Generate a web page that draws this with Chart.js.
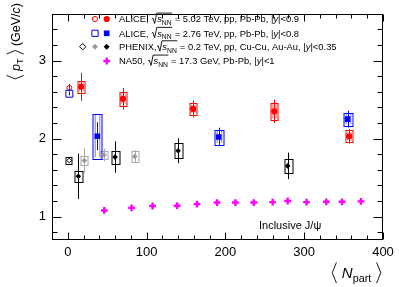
<!DOCTYPE html>
<html><head><meta charset="utf-8">
<script src="https://cdn.jsdelivr.net/npm/chart.js@4.4.1/dist/chart.umd.min.js"></script>
<style>html,body{margin:0;padding:0;background:#fff}canvas{display:block}</style>
</head><body>
<canvas id="c" width="399" height="287"></canvas>
<script>
// ---- data ----
const xTickValues = [0, 100, 200, 300, 400];
const yTickValues = [1, 2, 3];

const npartAlice502 = [16.8, 70, 159, 262, 357];
const ptAlice502 = [2.665, 2.51, 2.38, 2.35, 2.03];
const statAlice502 = [0.18, 0.14, 0.11, 0.15, 0.095];
const sysAlice502 = [0.075, 0.09, 0.074, 0.11, 0.078];

const npartAlice502pp = [2];
const ptAlice502pp = [2.65];
const statAlice502pp = [0.05];
const sysAlice502pp = [0];

const npartAlice276 = [37.5, 191.5, 355];
const ptAlice276 = [2.03, 2.02, 2.25];
const statAlice276 = [0.18, 0.12, 0.11];
const sysAlice276 = [0.29, 0.096, 0.082];

const npartAlice276pp = [2];
const ptAlice276pp = [2.575];
const statAlice276pp = [0.02];
const sysAlice276pp = [0];

const npartPhenixAuAu = [13.4, 60, 140, 279];
const ptPhenixAuAu = [1.517, 1.763, 1.845, 1.65];
const statPhenixAuAu = [0.29, 0.2, 0.16, 0.17];
const sysPhenixAuAu = [0.07, 0.082, 0.096, 0.092];

const npartPhenixCuCu = [21, 46, 85];
const ptPhenixCuCu = [1.72, 1.79, 1.77];
const statPhenixCuCu = [0.16, 0.08, 0.08];
const sysPhenixCuCu = [0.06, 0.053, 0.07];

const npartPhenixpp = [2];
const ptPhenixpp = [1.72];
const statPhenixpp = [0];
const sysPhenixpp = [0.045];

const npartNA50 = [46.3, 81, 107.6, 138.7, 164, 189.4, 212.7, 236, 260, 279, 303, 328, 348, 372];
const ptNA50 = [1.079, 1.112, 1.136, 1.14, 1.16, 1.18, 1.18, 1.18, 1.185, 1.20, 1.185, 1.19, 1.19, 1.195];

// ---- styling ----
const FONT = '"Liberation Sans", Arial, Helvetica, sans-serif';
const RED = '#ff0000', BLUE = '#0000ff', BLACK = '#000000', GRAY = '#9a9a9a', MAG = '#ff00ff';

function pts(xs, ys) { return xs.map((x, i) => ({ x: x, y: ys[i] })); }

const datasets = [
  { data: pts(npartPhenixpp, ptPhenixpp), stat: statPhenixpp, sys: sysPhenixpp, errColor: BLACK, boxHW: 3.2,
    pointStyle: 'rectRot', radius: 2.4, borderWidth: 1, borderColor: BLACK, backgroundColor: 'rgba(0,0,0,0)' },
  { data: pts(npartPhenixCuCu, ptPhenixCuCu), stat: statPhenixCuCu, sys: sysPhenixCuCu, errColor: '#a8a8a8', boxHW: 3.7,
    pointStyle: 'rectRot', radius: 2.8, borderWidth: 0, borderColor: GRAY, backgroundColor: GRAY },
  { data: pts(npartPhenixAuAu, ptPhenixAuAu), stat: statPhenixAuAu, sys: sysPhenixAuAu, errColor: BLACK, boxHW: 4,
    pointStyle: 'rectRot', radius: 2.8, borderWidth: 0, borderColor: BLACK, backgroundColor: BLACK },
  { data: pts(npartAlice276pp, ptAlice276pp), stat: statAlice276pp, sys: sysAlice276pp, errColor: BLUE, boxHW: 3,
    pointStyle: 'rect', radius: 4.9, borderWidth: 1, borderColor: BLUE, backgroundColor: 'rgba(0,0,0,0)' },
  { data: pts(npartAlice276, ptAlice276), stat: statAlice276, sys: sysAlice276, errColor: BLUE, boxHW: 4.3, dbl: true,
    pointStyle: 'rect', radius: 4.0, borderWidth: 0, borderColor: BLUE, backgroundColor: BLUE },
  { data: pts(npartAlice502pp, ptAlice502pp), stat: statAlice502pp, sys: sysAlice502pp, errColor: RED, boxHW: 3,
    pointStyle: 'circle', radius: 2.5, borderWidth: 1, borderColor: RED, backgroundColor: 'rgba(0,0,0,0)' },
  { data: pts(npartAlice502, ptAlice502), stat: statAlice502, sys: sysAlice502, errColor: RED, boxHW: 3.7, dbl: true,
    pointStyle: 'circle', radius: 3.1, borderWidth: 0, borderColor: RED, backgroundColor: RED },
  { data: pts(npartNA50, ptNA50), errColor: MAG,
    pointStyle: 'cross', radius: 3.4, borderWidth: 2.4, borderColor: MAG, backgroundColor: MAG }
];

// ---- rich text helper ----
function rich(ctx, x, y, segs, f, dry) {
  let cx = x;
  for (const s of segs) {
    if (s.sqrt) {
      const innerW = rich(ctx, 0, 0, s.sqrt, f, true);
      const top = y - 0.98 * f;
      if (!dry) {
        ctx.save();
        ctx.lineWidth = 0.9; ctx.strokeStyle = '#000';
        ctx.beginPath();
        ctx.moveTo(cx + 0.05 * f, y - 0.38 * f);
        ctx.lineTo(cx + 0.17 * f, y - 0.45 * f);
        ctx.lineTo(cx + 0.36 * f, y + 0.12 * f);
        ctx.lineTo(cx + 0.58 * f, top);
        ctx.lineTo(cx + 0.62 * f + innerW + 0.05 * f, top);
        ctx.stroke();
        ctx.restore();
      }
      cx += 0.62 * f;
      rich(ctx, cx, y, s.sqrt, f, dry);
      cx += innerW + 0.05 * f;
    } else if (s.br) {
      const h = s.h || 1.0, w = 0.28 * f;
      if (!dry) {
        ctx.save();
        ctx.lineWidth = 0.9; ctx.strokeStyle = '#000';
        ctx.beginPath();
        const mid = y - 0.35 * f, hh = h * f * 0.55;
        const pad = 0.08 * f;
        if (s.br === '<') {
          ctx.moveTo(cx + pad + w, mid - hh); ctx.lineTo(cx + pad, mid); ctx.lineTo(cx + pad + w, mid + hh);
        } else {
          ctx.moveTo(cx + pad, mid - hh); ctx.lineTo(cx + pad + w, mid); ctx.lineTo(cx + pad, mid + hh);
        }
        ctx.stroke();
        ctx.restore();
      }
      cx += w + 0.16 * f;
    } else {
      const size = s.sub ? f * 0.72 : f;
      ctx.font = (s.it ? 'italic ' : '') + size.toFixed(2) + 'px ' + FONT;
      if (!dry) {
        ctx.fillStyle = '#000';
        ctx.textBaseline = 'alphabetic';
        ctx.textAlign = 'left';
        ctx.fillText(s.t, cx, y + (s.sub ? f * 0.28 : 0));
      }
      cx += ctx.measureText(s.t).width;
    }
  }
  return cx - x;
}
const sNN = [{ t: 's', it: true }, { t: 'NN', sub: true }];

// ---- plugins ----
const errPlugin = {
  id: 'err',
  beforeDatasetsDraw(chart) {
    const ctx = chart.ctx, ys = chart.scales.y;
    chart.data.datasets.forEach((ds, i) => {
      const meta = chart.getDatasetMeta(i);
      meta.data.forEach((p, j) => {
        const x = Math.round(p.x) + 0.5, yv = ds.data[j].y;
        const st = ds.stat ? ds.stat[j] : 0, sy = ds.sys ? ds.sys[j] : 0;
        ctx.save();
        ctx.strokeStyle = ds.errColor; ctx.lineWidth = 1;
        if (st > 0) {
          ctx.beginPath();
          ctx.moveTo(x, ys.getPixelForValue(yv + st));
          ctx.lineTo(x, ys.getPixelForValue(yv - st));
          ctx.stroke();
        }
        if (sy > 0) {
          const t = ys.getPixelForValue(yv + sy), b = ys.getPixelForValue(yv - sy);
          const hw = ds.boxHW;
          ctx.strokeRect(Math.round(x - hw), Math.round(t) + 0.5, Math.round(2 * hw), Math.round(b - t));
          if (ds.dbl) {
            ctx.globalAlpha = 0.55;
            ctx.beginPath();
            ctx.moveTo(x - hw + 2, t + 1.5); ctx.lineTo(x - hw + 2, b - 1.5);
            ctx.moveTo(x + hw - 2, t + 1.5); ctx.lineTo(x + hw - 2, b - 1.5);
            ctx.stroke();
          }
        }
        ctx.restore();
      });
    });
  }
};

const framePlugin = {
  id: 'frame',
  afterDraw(chart) {
    const ctx = chart.ctx, a = chart.chartArea, xs = chart.scales.x, ys = chart.scales.y;
    ctx.save();
    ctx.strokeStyle = '#000'; ctx.lineWidth = 1;
    const L = Math.round(a.left) + 0.5, R = Math.round(a.right) - 0.5, T = Math.round(a.top) + 0.5, B = Math.round(a.bottom) - 0.5;
    ctx.strokeRect(L, T, R - L, B - T);
    ctx.beginPath();
    for (let k = 4; k <= 18; k++) {
      const v = k * 0.2;
      if (v > ys.max + 1e-9) break;
      const major = Math.abs(v - Math.round(v)) < 1e-6;
      const len = major ? 9 : 5;
      const py = Math.round(ys.getPixelForValue(v)) + 0.5;
      ctx.moveTo(L, py); ctx.lineTo(L + len, py);
      ctx.moveTo(R, py); ctx.lineTo(R - len, py);
    }
    for (let v = 0; v <= 400; v += 20) {
      const major = v % 100 === 0;
      const len = major ? 7 : 4;
      const px = Math.round(xs.getPixelForValue(v)) + 0.5;
      ctx.moveTo(px, B); ctx.lineTo(px, B - len);
      ctx.moveTo(px, T); ctx.lineTo(px, T + len);
    }
    ctx.stroke();
    ctx.restore();

    // legend
    const f = 9.4;
    const mx1 = 95, mx2 = 106.7, mx0 = 82.7, tx = 119;
    const rows = [19, 33.3, 46.7, 61];
    const dp = Chart.helpers.drawPoint;
    function mk(style, r, x, y, fill, stroke, bw) {
      ctx.save();
      ctx.fillStyle = fill; ctx.strokeStyle = stroke; ctx.lineWidth = bw;
      dp(ctx, { pointStyle: style, radius: r, borderWidth: bw, rotation: 0 }, x, y);
      ctx.restore();
    }
    const clear = 'rgba(0,0,0,0)';
    mk('circle', 2.6, mx1, rows[0], clear, RED, 1);
    mk('circle', 3.1, mx2, rows[0], RED, RED, 0);
    mk('rect', 4.4, mx1, rows[1], clear, BLUE, 1);
    mk('rect', 4.0, mx2, rows[1], BLUE, BLUE, 0);
    mk('rectRot', 3.2, mx0, rows[2], clear, BLACK, 1);
    mk('rectRot', 3.0, mx1, rows[2], GRAY, GRAY, 0);
    mk('rectRot', 3.0, mx2, rows[2], BLACK, BLACK, 0);
    mk('cross', 3.4, mx2, rows[3], MAG, MAG, 2.4);

    const bl = 3.3;
    rich(ctx, tx, rows[0] + bl, [{ t: 'ALICE, ' }, { sqrt: sNN }, { t: ' = 5.02 TeV, pp, Pb-Pb, |' }, { t: 'y', it: true }, { t: '|<0.9' }], f);
    rich(ctx, tx, rows[1] + bl, [{ t: 'ALICE, ' }, { sqrt: sNN }, { t: ' = 2.76 TeV, pp, Pb-Pb, |' }, { t: 'y', it: true }, { t: '|<0.8' }], f);
    rich(ctx, tx, rows[2] + bl, [{ t: 'PHENIX,' }, { sqrt: sNN }, { t: ' = 0.2 TeV, pp, Cu-Cu, Au-Au, |' }, { t: 'y', it: true }, { t: '|<0.35' }], f);
    rich(ctx, tx, rows[3] + bl, [{ t: 'NA50, ' }, { sqrt: sNN }, { t: ' = 17.3 GeV, Pb-Pb, |' }, { t: 'y', it: true }, { t: '|<1' }], f);

    ctx.save();
    ctx.font = '11px ' + FONT; ctx.fillStyle = '#000'; ctx.textBaseline = 'alphabetic'; ctx.textAlign = 'left';
    ctx.fillText('Inclusive J/\u03C8', 259, 229);
    ctx.restore();

    const fx = 15;
    const xsegs = [{ br: '<', h: 1.25 }, { t: ' ' }, { t: 'N', it: true }, { t: 'part', sub: true }, { t: ' ' }, { br: '>', h: 1.25 }];
    const wx = rich(ctx, 0, 0, xsegs, fx, true);
    rich(ctx, 382 - wx, 278, xsegs, fx);

    const fy = 12.5;
    const ysegs = [{ br: '<', h: 1.25 }, { t: ' ' }, { t: 'p', it: true }, { t: 'T', sub: true }, { t: ' ' }, { br: '>', h: 1.25 }, { t: ' (GeV/' }, { t: 'c', it: true }, { t: ')' }];
    const wy = rich(ctx, 0, 0, ysegs, fy, true);
    ctx.save();
    ctx.translate(19.5, 3);
    ctx.rotate(-Math.PI / 2);
    rich(ctx, -wy, 0, ysegs, fy);
    ctx.restore();
  }
};

new Chart(document.getElementById('c'), {
  type: 'scatter',
  data: { datasets: datasets },
  options: {
    responsive: false,
    animation: false,
    events: [],
    layout: { padding: { left: 0, right: 16, top: 5, bottom: 0 } },
    plugins: { legend: { display: false }, tooltip: { enabled: false }, title: { display: false } },
    scales: {
      x: {
        type: 'linear', min: -20, max: 400,
        grid: { display: false, drawTicks: false }, border: { display: false },
        afterBuildTicks: s => { s.ticks = xTickValues.map(v => ({ value: v })); },
        afterFit: s => { s.height = 47; },
        ticks: { padding: 5, autoSkip: false, maxRotation: 0, color: '#000', font: { family: FONT, size: 13 } }
      },
      y: {
        type: 'linear', min: 0.7, max: 3.6,
        grid: { display: false, drawTicks: false }, border: { display: false },
        afterBuildTicks: s => { s.ticks = yTickValues.map(v => ({ value: v })); },
        afterFit: s => { s.width = 52; },
        ticks: { padding: 6, autoSkip: false, color: '#000', font: { family: FONT, size: 13 } }
      }
    }
  },
  plugins: [errPlugin, framePlugin]
});
</script>
</body></html>
